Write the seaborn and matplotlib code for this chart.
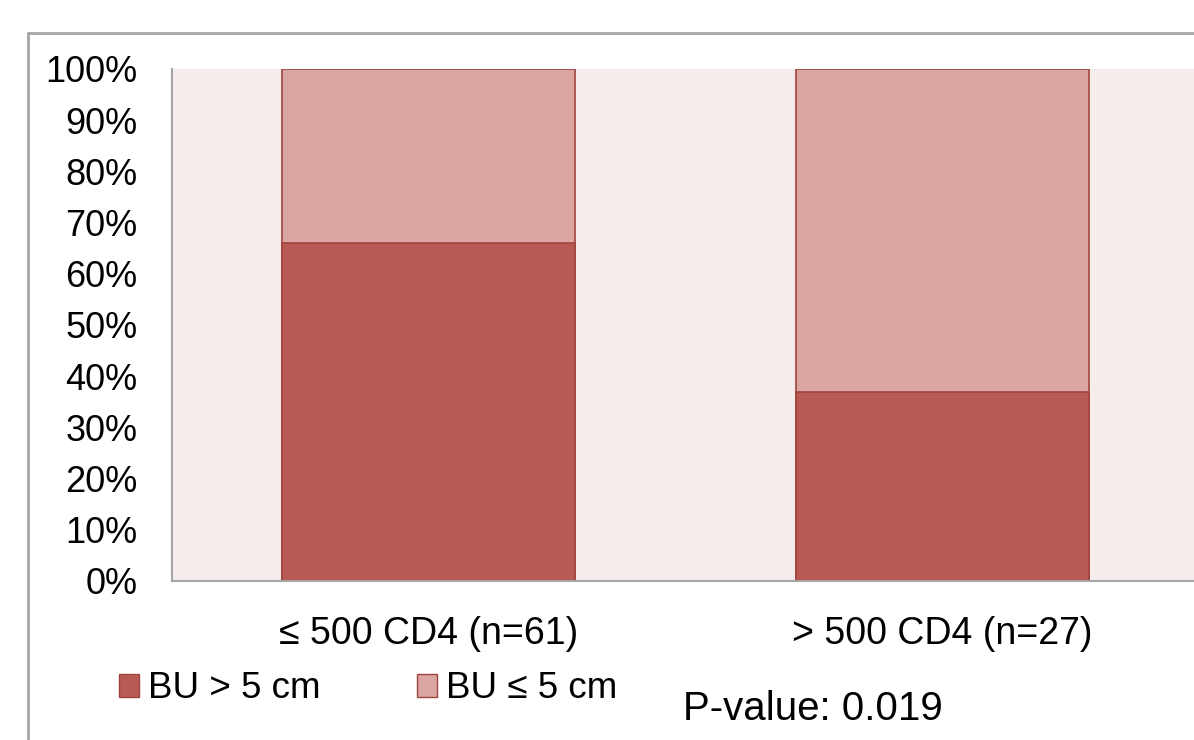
import matplotlib
matplotlib.use("Agg")
import matplotlib.pyplot as plt
import seaborn as sns
import pandas as pd
from matplotlib.patches import Patch
from matplotlib.lines import Line2D
from matplotlib.ticker import FuncFormatter

# data
groups = ["\u2264 500 CD4 (n=61)", "> 500 CD4 (n=27)"]
bu_gt5 = [66, 37]
bu_le5 = [34, 63]
legend_labels = ["BU > 5 cm", "BU \u2264 5 cm"]
p_text = "P-value: 0.019"

dark = "#B85A53"
light = "#DBA6A2"
edge = "#A0443E"

sns.set_style("white")
plt.rcParams["font.family"] = ["Liberation Sans", "DejaVu Sans"]
plt.rcParams["text.color"] = "black"
plt.rcParams["xtick.color"] = "black"
plt.rcParams["ytick.color"] = "black"

df = pd.DataFrame({"group": groups, "gt5": bu_gt5, "le5": bu_le5})
df["total"] = df["gt5"] + df["le5"]

fig = plt.figure(figsize=(11.94, 7.40), dpi=100)
ax = fig.add_axes([172 / 1194, 159 / 740, 1027 / 1194, 512 / 740])
ax.set_facecolor("#F5ECEB")

# stacked bars: full height in light colour, lower share in dark colour on top
sns.barplot(data=df, x="group", y="total", color=light, width=0.571,
            edgecolor=edge, linewidth=1.2, saturation=1, ax=ax)
sns.barplot(data=df, x="group", y="gt5", color=dark, width=0.571,
            edgecolor=edge, linewidth=1.2, saturation=1, ax=ax)

ax.set_xlim(-0.5, 1.5)
ax.set_ylim(0, 100)
ax.set_yticks(range(0, 101, 10))
ax.yaxis.set_major_formatter(FuncFormatter(lambda v, p: f"{int(v)}%"))
ax.set_xlabel("")
ax.set_ylabel("")
ax.tick_params(axis="y", labelsize=26, length=0, pad=25, labelcolor="black")
ax.tick_params(axis="x", labelsize=27, length=0, pad=25, labelcolor="black")
for s in ["top", "right"]:
    ax.spines[s].set_visible(False)
for s in ["left", "bottom"]:
    ax.spines[s].set_color("#A6A6A6")
    ax.spines[s].set_linewidth(1.5)

# outer chart frame (clipped by the image edges)
fx = 28 / 1194
fy = (740 - 33) / 740
fig.add_artist(Line2D([fx, 1], [fy, fy], transform=fig.transFigure, color="#A6A6A6", lw=2))
fig.add_artist(Line2D([fx, fx], [0, fy], transform=fig.transFigure, color="#A6A6A6", lw=2))

handles = [Patch(facecolor=dark, edgecolor=edge, lw=1),
           Patch(facecolor=light, edgecolor=edge, lw=1)]
fig.legend(handles, legend_labels, loc="center left",
           bbox_to_anchor=(119 / 1194, (740 - 689) / 740), ncol=2, frameon=False,
           fontsize=26.5, handlelength=0.55, handleheight=0.55, handletextpad=0.25,
           columnspacing=2.6, borderpad=0, borderaxespad=0)

fig.text(683 / 1194, (740 - 709) / 740, p_text, fontsize=29, va="center", ha="left",
         color="black")

fig.savefig("out.png", dpi=100)
